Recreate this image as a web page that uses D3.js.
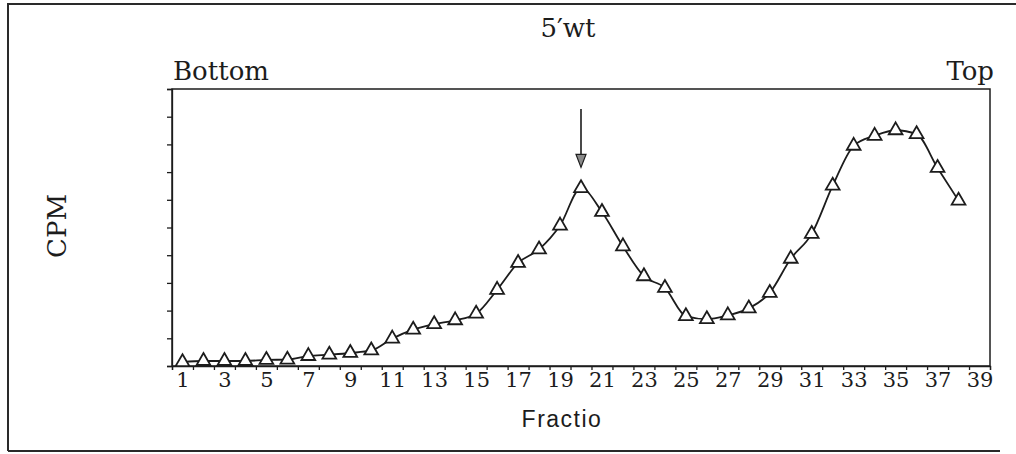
<!DOCTYPE html>
<html>
<head>
<meta charset="utf-8">
<script src="https://cdn.jsdelivr.net/npm/d3@7"></script>
<style>
  body { margin: 0; background: #fff; }
  svg { display: block; }
</style>
</head>
<body>
<svg id="chart" width="1016" height="454"></svg>
<script>
// gradient fractions, bottom -> top
var fractions = d3.range(1, 39);
var cpm = [0.14, 0.18, 0.18, 0.18, 0.22, 0.23, 0.36, 0.41, 0.47, 0.56,
           0.99, 1.31, 1.51, 1.65, 1.89, 2.75, 3.72, 4.21, 5.07, 6.42,
           5.56, 4.32, 3.24, 2.82, 1.80, 1.69, 1.83, 2.08, 2.64, 3.87,
           4.77, 6.51, 7.95, 8.31, 8.51, 8.37, 7.15, 5.97];
var tickLabels = d3.range(1, 40, 2);
var arrowFraction = 20,
    arrowFrom = 9.28,
    arrowTo = 7.17;

var svg = d3.select("#chart"),
    plotL = 172, plotR = 990, plotT = 89, plotB = 366,
    ink = "#1c1c1c";

var x = d3.scaleLinear().domain([0.5, 39.5]).range([plotL, plotR]),
    y = d3.scaleLinear().domain([0, 10]).range([plotB, plotT]);

// outer frame (no right side, like the scan)
svg.append("path")
    .attr("d", "M8,451 L8,4 L1016,4 M8,451 L1000,451")
    .attr("fill", "none")
    .attr("stroke", "#2a2a2a")
    .attr("stroke-width", 2);

// plot box
svg.append("rect")
    .attr("x", plotL).attr("y", plotT)
    .attr("width", plotR - plotL).attr("height", plotB - plotT)
    .attr("fill", "none")
    .attr("stroke", ink)
    .attr("stroke-width", 1.5);

// y axis, ticks only
var yAxis = svg.append("g")
    .attr("transform", "translate(" + plotL + ",0)")
    .call(d3.axisLeft(y).ticks(10).tickSize(5).tickFormat(""));
yAxis.selectAll("line,path").attr("stroke", ink).attr("stroke-width", 1.3);

// x axis ticks between fractions
var xTicks = svg.append("g")
    .attr("transform", "translate(0," + plotB + ")")
    .call(d3.axisBottom(x).tickValues(d3.range(0.5, 40, 1)).tickSize(4).tickFormat(""));
xTicks.selectAll("line,path").attr("stroke", ink).attr("stroke-width", 1.3);

// x labels on odd fractions
var xLabels = svg.append("g")
    .attr("transform", "translate(0," + plotB + ")")
    .call(d3.axisBottom(x).tickValues(tickLabels).tickSize(0).tickPadding(6).tickFormat(d3.format("d")));
xLabels.select(".domain").remove();
xLabels.selectAll("text")
    .attr("fill", ink)
    .style("font-family", "'DejaVu Serif', serif")
    .style("font-size", "21px");

// line
var line = d3.line()
    .x(function(d, i) { return x(fractions[i]); })
    .y(function(d) { return y(d); })
    .curve(d3.curveMonotoneX);

svg.append("path")
    .datum(cpm)
    .attr("d", line)
    .attr("fill", "none")
    .attr("stroke", ink)
    .attr("stroke-width", 1.8);

// triangle markers
svg.selectAll(".pt")
    .data(cpm)
    .enter().append("path")
    .attr("class", "pt")
    .attr("transform", function(d, i) { return "translate(" + x(fractions[i]) + "," + y(d) + ")"; })
    .attr("d", d3.symbol(d3.symbolTriangle, 82))
    .attr("fill", "#fff")
    .attr("stroke", ink)
    .attr("stroke-width", 1.8);

// arrow over the peak
var ax = x(arrowFraction), ay0 = y(arrowFrom), ay1 = y(arrowTo);
svg.append("line")
    .attr("x1", ax).attr("x2", ax)
    .attr("y1", ay0).attr("y2", ay1 - 12)
    .attr("stroke", ink)
    .attr("stroke-width", 1.6);
svg.append("path")
    .attr("d", "M" + (ax - 5) + "," + (ay1 - 13) + "L" + (ax + 5) + "," + (ay1 - 13) + "L" + ax + "," + ay1 + "Z")
    .attr("fill", "#8a8a8a")
    .attr("stroke", ink)
    .attr("stroke-width", 1.2);

// texts
var serif = "'DejaVu Serif', serif";
svg.append("text")
    .attr("x", 568).attr("y", 37)
    .attr("text-anchor", "middle")
    .style("font-family", serif).style("font-size", "26px")
    .attr("fill", ink)
    .text("5′wt");

svg.append("text")
    .attr("x", 173).attr("y", 80)
    .style("font-family", serif).style("font-size", "26px")
    .attr("fill", ink)
    .text("Bottom");

svg.append("text")
    .attr("x", 994).attr("y", 80)
    .attr("text-anchor", "end")
    .style("font-family", serif).style("font-size", "26px")
    .attr("fill", ink)
    .text("Top");

svg.append("text")
    .attr("transform", "translate(66,226) rotate(-90)")
    .attr("text-anchor", "middle")
    .style("font-family", serif).style("font-size", "26px")
    .attr("fill", ink)
    .text("CPM");

svg.append("text")
    .attr("x", 562).attr("y", 427)
    .attr("text-anchor", "middle")
    .style("font-family", "'Liberation Sans', Arial, sans-serif")
    .style("font-size", "23px")
    .style("letter-spacing", "1.5px")
    .attr("fill", ink)
    .text("Fractio");
</script>
</body>
</html>
